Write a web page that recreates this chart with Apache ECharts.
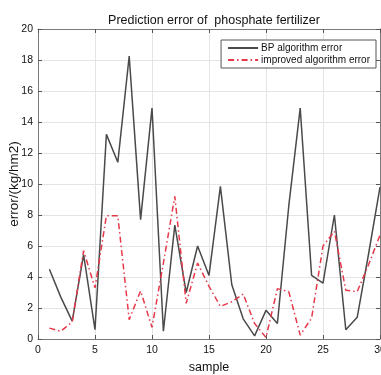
<!DOCTYPE html>
<html>
<head>
<meta charset="utf-8">
<script src="https://cdn.jsdelivr.net/npm/echarts@6/dist/echarts.min.js"></script>
<style>
html,body{margin:0;padding:0;background:#fff;}
#chart{width:381px;height:375px;}
</style>
</head>
<body>
<div id="chart"></div>
<script>
const samples = [1,2,3,4,5,6,7,8,9,10,11,12,13,14,15,16,17,18,19,20,21,22,23,24,25,26,27,28,29,30];
const bpError = [4.5,2.7,1.15,5.45,0.6,13.2,11.4,18.25,7.7,14.9,0.5,7.35,3.0,6.0,4.1,9.85,3.5,1.3,0.2,1.85,1.0,8.6,14.9,4.1,3.6,8.0,0.6,1.4,5.5,9.8];
const improvedError = [0.7,0.5,1.1,5.7,3.3,7.95,7.95,1.25,3.1,0.75,4.9,9.2,2.3,4.9,3.4,2.1,2.4,2.9,1.0,0.1,3.25,3.05,0.25,1.35,6.0,6.95,3.15,3.05,4.8,6.7];
const xTicks = [0,5,10,15,20,25,30];
const yTicks = [0,2,4,6,8,10,12,14,16,18,20];

const FONT = '"Liberation Sans", Arial, sans-serif';
const chart = echarts.init(document.getElementById('chart'));
const axisLineStyle = () => ({color:'#7a7a7a', width:1});
const tickStyle = () => ({show:true, inside:true, length:4, lineStyle:{color:'#555', width:1}});
chart.setOption({
  animation:false,
  backgroundColor:'#fff',
  title:{
    text:'Prediction error of  phosphate fertilizer',
    left:209, top:9, textAlign:'center',
    textStyle:{fontFamily:FONT, fontSize:12.5, fontWeight:'normal', color:'#111'}
  },
  legend:{
    orient:'vertical',
    right:5, top:40,
    backgroundColor:'#fff',
    borderColor:'#555', borderWidth:1,
    padding:[3,6,3,6],
    itemGap:2,
    itemWidth:30, itemHeight:8,
    itemStyle:{opacity:0},
    textStyle:{fontFamily:FONT, fontSize:10, color:'#111', padding:[0,0,0,-2]},
    data:['BP algorithm error','improved algorithm error']
  },
  grid:{left:38, right:1, top:29, bottom:36, containLabel:false, outerBoundsMode:'none'},
  xAxis:[{
    type:'value', min:0, max:30, interval:5,
    name:'sample', nameLocation:'middle', nameGap:22, nameMoveOverlap:false,
    nameTextStyle:{fontFamily:FONT, fontSize:12.5, color:'#111'},
    axisLine:{show:true, onZero:false, lineStyle:axisLineStyle()},
    axisTick:tickStyle(),
    axisLabel:{fontFamily:FONT, fontSize:10.5, color:'#111', margin:6,
      formatter:v=> xTicks.includes(v) ? String(v) : ''},
    splitLine:{show:true, lineStyle:{color:'#e4e4e4', width:1}}
  },{
    type:'value', min:0, max:30, interval:5, position:'top',
    axisLine:{show:true, onZero:false, lineStyle:axisLineStyle()},
    axisTick:tickStyle(), axisLabel:{show:false}, splitLine:{show:false}
  }],
  yAxis:[{
    type:'value', min:0, max:20, interval:2, position:'left',
    name:'error/(kg/hm2)', nameLocation:'middle', nameGap:17, nameMoveOverlap:false,
    nameTextStyle:{fontFamily:FONT, fontSize:13.5, color:'#111'},
    axisLine:{show:true, onZero:false, lineStyle:axisLineStyle()},
    axisTick:tickStyle(),
    axisLabel:{fontFamily:FONT, fontSize:10.5, color:'#111', margin:5,
      formatter:v=> yTicks.includes(v) ? String(v) : ''},
    splitLine:{show:true, lineStyle:{color:'#e4e4e4', width:1}}
  },{
    type:'value', min:0, max:20, interval:2, position:'right',
    axisLine:{show:true, onZero:false, lineStyle:axisLineStyle()},
    axisTick:tickStyle(), axisLabel:{show:false}, splitLine:{show:false}
  }],
  series:[{
    name:'BP algorithm error', type:'line',
    data:samples.map((s,i)=>[s,bpError[i]]),
    symbol:'none', smooth:false,
    lineStyle:{color:'#4a4a4a', width:1.5},
    itemStyle:{color:'#4a4a4a'}
  },{
    name:'improved algorithm error', type:'line',
    data:samples.map((s,i)=>[s,improvedError[i]]),
    symbol:'none', smooth:false,
    lineStyle:{color:'#e5394a', width:1.5, type:[6,3,1.5,3]},
    itemStyle:{color:'#e5394a'}
  }]
});
</script>
</body>
</html>
